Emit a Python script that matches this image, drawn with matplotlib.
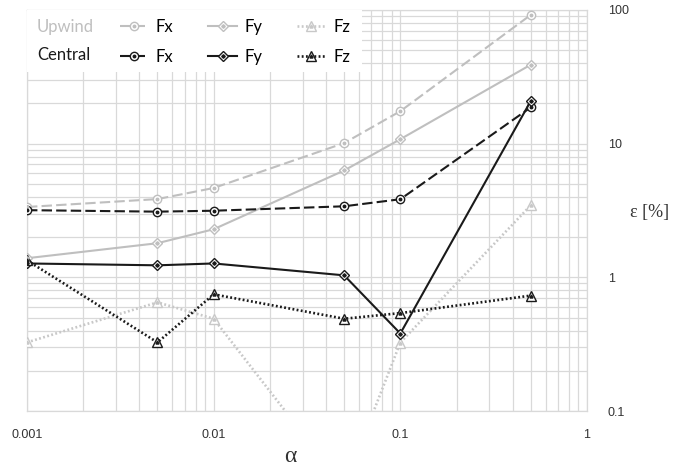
import matplotlib
matplotlib.use("Agg")
from matplotlib import pyplot as plt
from matplotlib.patches import Rectangle
import numpy as np

# alpha values on the x axis
alpha = [0.001, 0.005, 0.01, 0.05, 0.1, 0.5]

# error in percent
upwind_fx = [3.36, 3.85, 4.66, 10.1, 17.5, 92.0]
upwind_fy = [1.39, 1.80, 2.29, 6.3, 10.8, 39.0]
upwind_fz = [0.326, 0.65, 0.49, 0.027, 0.325, 3.46]
central_fx = [3.18, 3.10, 3.15, 3.40, 3.84, 18.7]
central_fy = [1.27, 1.23, 1.27, 1.035, 0.38, 20.9]
central_fz = [1.34, 0.326, 0.746, 0.49, 0.54, 0.73]

x_ticks = [0.001, 0.01, 0.1, 1]
x_labels = ["0.001", "0.01", "0.1", "1"]
y_ticks = [0.1, 1, 10, 100]
y_labels = ["0.1", "1", "10", "100"]

GRAY = "#bfbfbf"
GRAY_M = "#c8c8c8"
BLACK = "#1a1a1a"
GRID = "#d9d9d9"

W, H = 691, 475
fig = plt.figure(figsize=(W / 100, H / 100), dpi=100)
left, right, top, bottom = 27, 587, 10, 411
ax = fig.add_axes([left / W, 1 - bottom / H, (right - left) / W, (bottom - top) / H])
ax.set_xscale("log")
ax.set_yscale("log")
ax.set_xlim(0.001, 1)
ax.set_ylim(0.1, 100)


def series(y, color, ls, outer, inner, osize, isize, lw=1.5):
    ln, = ax.plot(alpha, y, color=color, linestyle=ls, linewidth=lw,
                  marker=outer, markersize=osize, markerfacecolor="white",
                  markeredgecolor=color, markeredgewidth=1.0, zorder=3)
    dot, = ax.plot(alpha, y, linestyle="none", marker=inner, markersize=isize,
                   markerfacecolor=color, markeredgecolor=color, zorder=4)
    return (ln, dot)


dash = (0, (5, 2))
dots = (0, (0.7, 0.9))

h_ufx = series(upwind_fx, GRAY, dash, "o", "o", 6, 1.8)
h_ufy = series(upwind_fy, GRAY, "-", "D", "D", 5.5, 1.8)
h_ufz = series(upwind_fz, GRAY_M, dots, "^", "^", 6.5, 2.2, lw=1.9)
h_cfx = series(central_fx, BLACK, dash, "o", "o", 6, 1.8)
h_cfy = series(central_fy, BLACK, "-", "D", "D", 5.5, 1.8)
h_cfz = series(central_fz, BLACK, dots, "^", "^", 6.5, 2.2, lw=1.9)

ax.grid(True, which="both", color=GRID, linewidth=0.9)
ax.set_axisbelow(True)
for s in ax.spines.values():
    s.set_color(GRID)
    s.set_linewidth(0.9)

ax.yaxis.tick_right()
ax.set_xticks(x_ticks)
ax.set_xticklabels(x_labels)
ax.set_yticks(y_ticks)
ax.set_yticklabels(y_labels)
ax.tick_params(which="both", length=0, labelsize=9, labelcolor="#333333")
ax.tick_params(axis="x", pad=13)
ax.tick_params(axis="y", pad=15)
for t in ax.get_xticklabels() + ax.get_yticklabels():
    t.set_fontfamily("Liberation Sans")

# legend area: white box over the grid
ax.add_patch(Rectangle((0, 0.845), 0.598, 0.155, transform=ax.transAxes,
                       facecolor="white", edgecolor="none", zorder=5))
ax.text(10 / 560, 1 - 17 / 401, "Upwind", transform=ax.transAxes, color=GRAY,
        fontsize=12, family="Lato", va="center", ha="left", zorder=6)
ax.text(10 / 560, 1 - 45 / 401, "Central", transform=ax.transAxes, color=BLACK,
        fontsize=12, family="Lato", va="center", ha="left", zorder=6)
leg = ax.legend([h_ufx, h_cfx, h_ufy, h_cfy, h_ufz, h_cfz],
                ["Fx", "Fx", "Fy", "Fy", "Fz", "Fz"], ncol=3,
                loc="upper left", bbox_to_anchor=((120 - left) / 560, 1 - 9 / 401),
                frameon=False, borderpad=0, borderaxespad=0,
                handlelength=1.7, handletextpad=0.45, columnspacing=2.1,
                labelspacing=0.85, prop={"family": "Lato", "size": 12})
leg.set_zorder(7)

fig.text(290 / W, 1 - 456 / H, "α", fontsize=17, family="Liberation Serif",
         ha="center", va="center", color="#333333")
fig.text(650 / W, 1 - 212 / H, "ε [%]", fontsize=13, family="Liberation Serif",
         ha="center", va="center", color="#333333")

fig.savefig("out.png", dpi=100)
